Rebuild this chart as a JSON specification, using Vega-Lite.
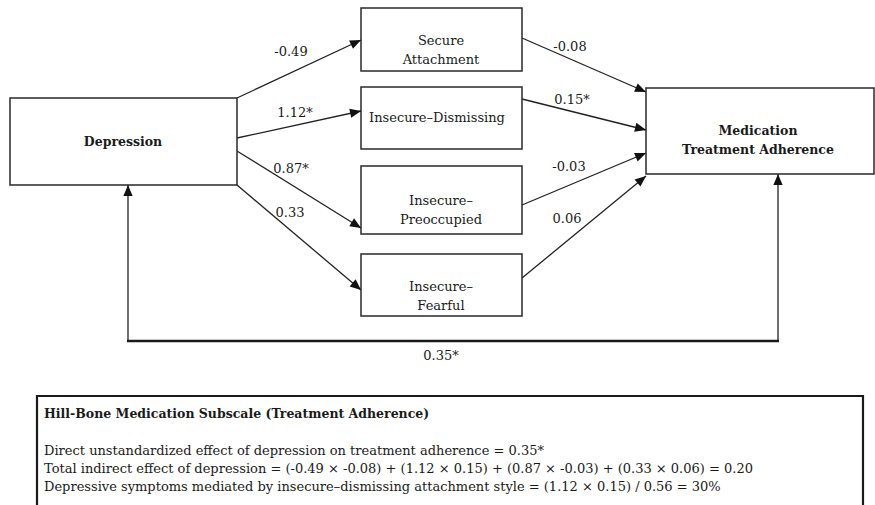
{
  "$schema": "https://vega.github.io/schema/vega-lite/v6.json",
  "width": 875,
  "height": 505,
  "autosize": {"type": "none"},
  "padding": 0,
  "background": "white",
  "config": {"view": {"stroke": null}},
  "datasets": {
    "nodes": [
      {"id": "Depression", "role": "predictor", "x0": 10, "x1": 237, "y0": 98, "y1": 185, "cx": 123, "cy": 142, "label": "Depression"},
      {"id": "Secure", "role": "mediator", "x0": 361, "x1": 522, "y0": 8, "y1": 71, "cx": 441, "cy": 41, "label": "Secure\nAttachment"},
      {"id": "Dismissing", "role": "mediator", "x0": 361, "x1": 522, "y0": 87, "y1": 149, "cx": 437, "cy": 118, "label": "Insecure–Dismissing"},
      {"id": "Preoccupied", "role": "mediator", "x0": 361, "x1": 522, "y0": 166, "y1": 234, "cx": 441, "cy": 201, "label": "Insecure–\nPreoccupied"},
      {"id": "Fearful", "role": "mediator", "x0": 361, "x1": 522, "y0": 254, "y1": 316, "cx": 441, "cy": 287, "label": "Insecure–\nFearful"},
      {"id": "Adherence", "role": "outcome", "x0": 646, "x1": 874, "y0": 88, "y1": 174, "cx": 758, "cy": 131, "label": "Medication\nTreatment Adherence"}
    ],
    "edges": [
      {"from": "Depression", "to": "Secure", "kind": "path", "x": 237, "y": 98, "x2": 361, "y2": 40, "angle": 64.9},
      {"from": "Depression", "to": "Dismissing", "kind": "path", "x": 237, "y": 138, "x2": 361, "y2": 111, "angle": 77.7},
      {"from": "Depression", "to": "Preoccupied", "kind": "path", "x": 237, "y": 151, "x2": 361, "y2": 228, "angle": 121.8},
      {"from": "Depression", "to": "Fearful", "kind": "path", "x": 237, "y": 185, "x2": 361, "y2": 290, "angle": 130.3},
      {"from": "Secure", "to": "Adherence", "kind": "path", "x": 522, "y": 38, "x2": 646, "y2": 92, "angle": 113.5},
      {"from": "Dismissing", "to": "Adherence", "kind": "path", "x": 522, "y": 99, "x2": 646, "y2": 130, "angle": 104.0},
      {"from": "Preoccupied", "to": "Adherence", "kind": "path", "x": 522, "y": 205, "x2": 646, "y2": 153, "angle": 67.2},
      {"from": "Fearful", "to": "Adherence", "kind": "path", "x": 522, "y": 278, "x2": 646, "y2": 176, "angle": 50.6},
      {"from": "direct", "to": "Depression", "kind": "direct", "x": 128, "y": 341, "x2": 128, "y2": 185, "angle": 0},
      {"from": "direct", "to": "Adherence", "kind": "direct", "x": 778, "y": 341, "x2": 778, "y2": 174, "angle": 0},
      {"from": "direct", "to": "direct", "kind": "base", "x": 127, "y": 341, "x2": 779, "y2": 341, "angle": null}
    ],
    "coefs": [
      {"path": "Depression→Secure", "text": "-0.49", "x": 291, "y": 52},
      {"path": "Depression→Dismissing", "text": "1.12*", "x": 295, "y": 113},
      {"path": "Depression→Preoccupied", "text": "0.87*", "x": 291, "y": 169},
      {"path": "Depression→Fearful", "text": "0.33", "x": 290, "y": 213},
      {"path": "Secure→Adherence", "text": "-0.08", "x": 570, "y": 47},
      {"path": "Dismissing→Adherence", "text": "0.15*", "x": 572, "y": 100},
      {"path": "Preoccupied→Adherence", "text": "-0.03", "x": 569, "y": 167},
      {"path": "Fearful→Adherence", "text": "0.06", "x": 567, "y": 219},
      {"path": "Direct", "text": "0.35*", "x": 441, "y": 356}
    ],
    "note": [
      {"x0": 37, "x1": 863, "y0": 396, "y1": 520}
    ],
    "noteLines": [
      {"line": 0, "x": 44, "y": 414, "text": "Hill-Bone Medication Subscale (Treatment Adherence)"},
      {"line": 1, "x": 44, "y": 451, "text": "Direct unstandardized effect of depression on treatment adherence = 0.35*"},
      {"line": 2, "x": 44, "y": 469, "text": "Total indirect effect of depression = (-0.49 × -0.08) + (1.12 × 0.15) + (0.87 × -0.03) + (0.33 × 0.06) = 0.20"},
      {"line": 3, "x": 44, "y": 487, "text": "Depressive symptoms mediated by insecure–dismissing attachment style = (1.12 × 0.15) / 0.56 = 30%"}
    ]
  },
  "layer": [
    {
      "data": {"name": "edges"},
      "transform": [{"filter": "datum.kind !== 'base'"}],
      "mark": {"type": "rule", "color": "#222", "strokeWidth": 1.3},
      "encoding": {
        "x": {"field": "x", "type": "quantitative", "scale": {"domain": [0, 875], "nice": false, "zero": false}, "axis": null},
        "y": {"field": "y", "type": "quantitative", "scale": {"domain": [0, 505], "nice": false, "zero": false, "reverse": true}, "axis": null},
        "x2": {"field": "x2"},
        "y2": {"field": "y2"}
      }
    },
    {
      "data": {"name": "edges"},
      "transform": [{"filter": "datum.kind === 'base'"}],
      "mark": {"type": "rule", "color": "#1a1a1a", "strokeWidth": 2.6},
      "encoding": {
        "x": {"field": "x", "type": "quantitative", "axis": null},
        "y": {"field": "y", "type": "quantitative", "axis": null},
        "x2": {"field": "x2"},
        "y2": {"field": "y2"}
      }
    },
    {
      "data": {"name": "nodes"},
      "mark": {"type": "rect", "fill": "white", "stroke": "#2a2a2a", "strokeWidth": 1.5},
      "encoding": {
        "x": {"field": "x0", "type": "quantitative", "axis": null},
        "x2": {"field": "x1"},
        "y": {"field": "y0", "type": "quantitative", "axis": null},
        "y2": {"field": "y1"}
      }
    },
    {
      "data": {"name": "edges"},
      "transform": [{"filter": "datum.kind !== 'base'"}],
      "mark": {"type": "point", "shape": "M0,0L-0.42,1L0.42,1Z", "filled": true, "size": 484, "color": "#111", "opacity": 1, "strokeWidth": 0},
      "encoding": {
        "x": {"field": "x2", "type": "quantitative", "axis": null},
        "y": {"field": "y2", "type": "quantitative", "axis": null},
        "angle": {"field": "angle", "type": "quantitative", "scale": null}
      }
    },
    {
      "data": {"name": "nodes"},
      "transform": [{"filter": "datum.role === 'mediator'"}],
      "mark": {"type": "text", "font": "DejaVu Serif", "fontSize": 13, "color": "#1a1a1a", "align": "center", "baseline": "middle", "lineBreak": "\n", "lineHeight": 19},
      "encoding": {
        "x": {"field": "cx", "type": "quantitative", "axis": null},
        "y": {"field": "cy", "type": "quantitative", "axis": null},
        "text": {"field": "label"}
      }
    },
    {
      "data": {"name": "nodes"},
      "transform": [{"filter": "datum.role !== 'mediator'"}],
      "mark": {"type": "text", "font": "DejaVu Serif", "fontSize": 12.5, "color": "#1a1a1a", "align": "center", "baseline": "middle", "lineBreak": "\n", "lineHeight": 19, "fontWeight": "bold"},
      "encoding": {
        "x": {"field": "cx", "type": "quantitative", "axis": null},
        "y": {"field": "cy", "type": "quantitative", "axis": null},
        "text": {"field": "label"}
      }
    },
    {
      "data": {"name": "coefs"},
      "mark": {"type": "text", "font": "DejaVu Serif", "fontSize": 13, "color": "#1a1a1a", "align": "center", "baseline": "middle"},
      "encoding": {
        "x": {"field": "x", "type": "quantitative", "axis": null},
        "y": {"field": "y", "type": "quantitative", "axis": null},
        "text": {"field": "text"}
      }
    },
    {
      "data": {"name": "note"},
      "mark": {"type": "rect", "fill": "white", "stroke": "#1a1a1a", "strokeWidth": 2.2},
      "encoding": {
        "x": {"field": "x0", "type": "quantitative", "axis": null},
        "x2": {"field": "x1"},
        "y": {"field": "y0", "type": "quantitative", "axis": null},
        "y2": {"field": "y1"}
      }
    },
    {
      "data": {"name": "noteLines"},
      "transform": [{"filter": "datum.line === 0"}],
      "mark": {"type": "text", "font": "DejaVu Serif", "fontSize": 12.5, "color": "#1a1a1a", "align": "left", "baseline": "middle", "fontWeight": "bold"},
      "encoding": {
        "x": {"field": "x", "type": "quantitative", "axis": null},
        "y": {"field": "y", "type": "quantitative", "axis": null},
        "text": {"field": "text"}
      }
    },
    {
      "data": {"name": "noteLines"},
      "transform": [{"filter": "datum.line > 0"}],
      "mark": {"type": "text", "font": "DejaVu Serif", "fontSize": 13, "color": "#1a1a1a", "align": "left", "baseline": "middle"},
      "encoding": {
        "x": {"field": "x", "type": "quantitative", "axis": null},
        "y": {"field": "y", "type": "quantitative", "axis": null},
        "text": {"field": "text"}
      }
    }
  ]
}
